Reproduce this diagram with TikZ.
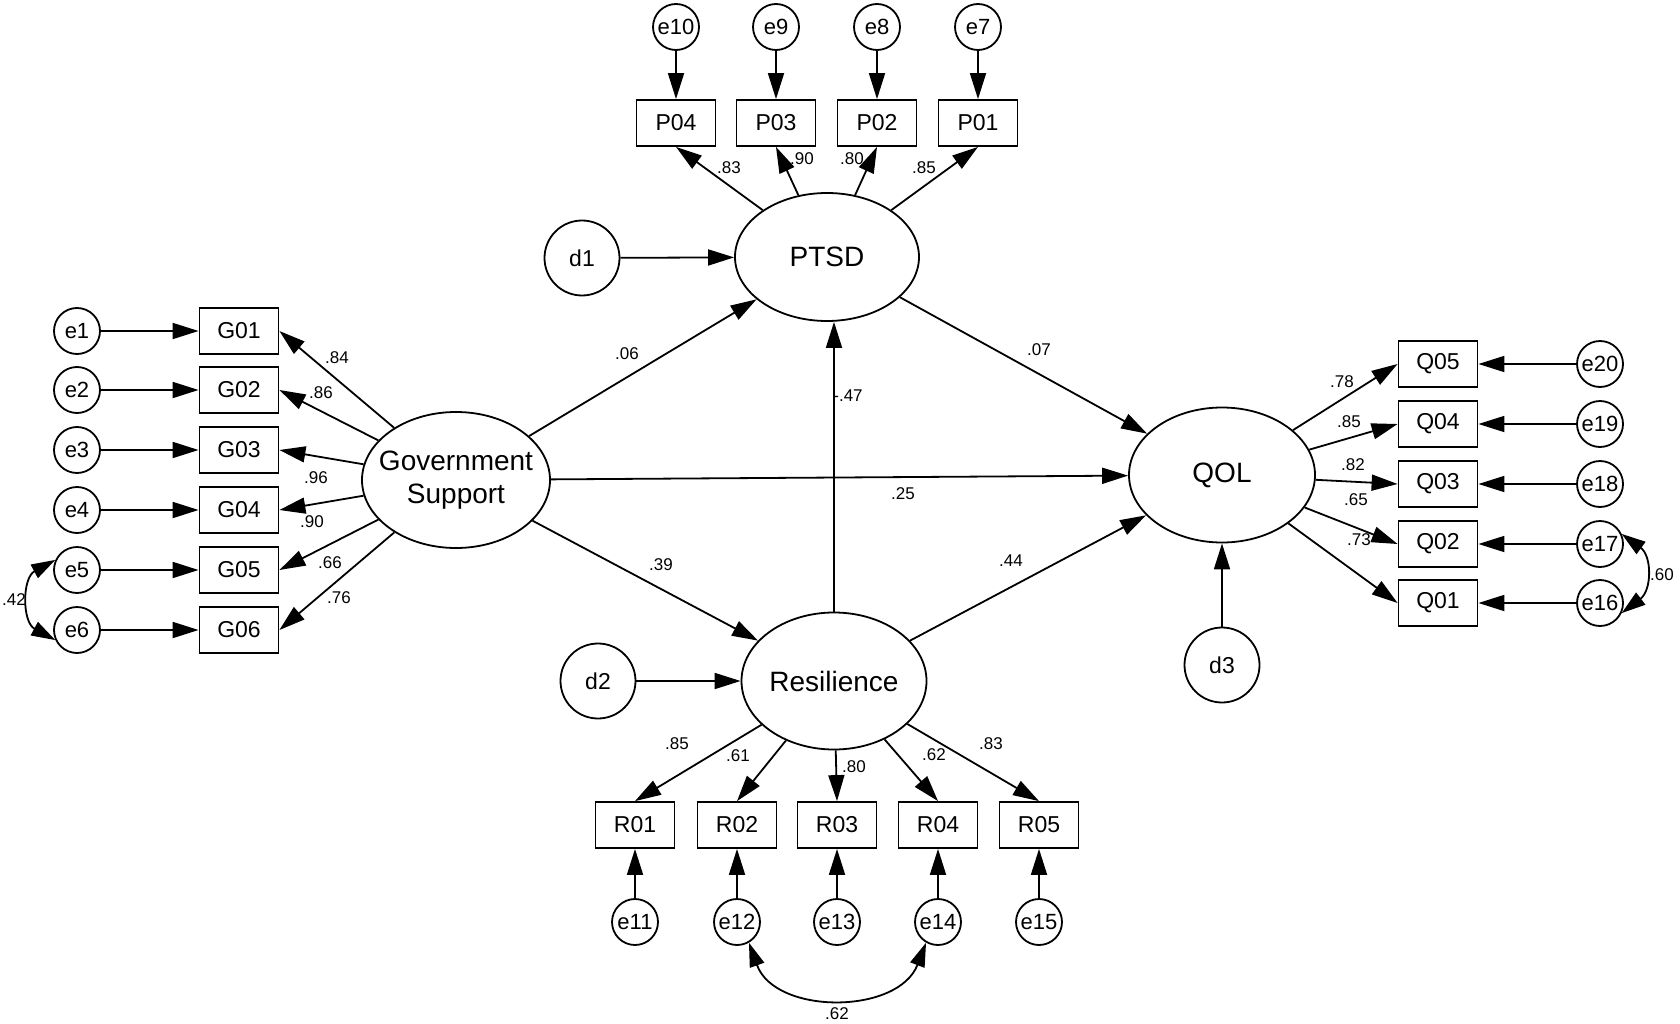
\documentclass[tikz,border=0pt]{standalone}
\usepackage{fontspec}
\setmainfont{Liberation Sans}
\usetikzlibrary{shapes.geometric,arrows.meta}
\begin{document}
\begin{tikzpicture}[x=1pt,y=-1pt,
  line width=1.8pt,
  lat/.style={draw,ellipse,inner sep=0pt,font=\fontsize{28}{33}\selectfont,align=center},
  obs/.style={draw,rectangle,minimum width=79pt,minimum height=46pt,inner sep=0pt,font=\fontsize{23}{26}\selectfont},
  err/.style={draw,circle,minimum size=46pt,inner sep=0pt,font=\fontsize{22}{26}\selectfont},
  dist/.style={draw,circle,minimum size=75pt,inner sep=0pt,font=\fontsize{23}{26}\selectfont},
  arr/.style={-{Triangle[length=26pt,width=16pt]}},
  cov/.style={{Triangle[length=24pt,width=15pt]}-{Triangle[length=24pt,width=15pt]}},
  lab/.style={font=\fontsize{17}{20}\selectfont,inner sep=0pt}]
\useasboundingbox (0,0) rectangle (1680,1024);

% latent variables
\node[lat,minimum width=188pt,minimum height=136pt] (gov) at (456,480) {};
\node[font=\fontsize{28}{33}\selectfont,align=center,inner sep=0pt] (govtext) at (gov.center) {Government\\Support};
\node[lat,minimum width=184pt,minimum height=128pt] (ptsd) at (827,257) {PTSD};
\node[lat,minimum width=186pt,minimum height=135pt] (qol) at (1222,475) {QOL};
\node[lat,minimum width=185pt,minimum height=137pt] (res) at (834,681) {Resilience};

% disturbances
\node[dist] (d1) at (582,258) {d1};
\node[dist] (d2) at (598,681) {d2};
\node[dist] (d3) at (1222,665) {d3};

% Government support indicators
\foreach \i/\y in {1/331,2/390,3/450,4/510,5/570,6/630}{
  \node[obs] (g\i) at (239,\y) {G0\i};
  \node[err] (e\i) at (77,\y) {e\i};
  \draw[arr] (e\i) -- (g\i);
  \draw[arr] (gov) -- (g\i.east);
}

% PTSD indicators
\foreach \i/\e/\x in {1/7/978,2/8/877,3/9/776,4/10/676}{
  \node[obs] (p\i) at (\x,123) {P0\i};
  \node[err] (e\e) at (\x,27) {e\e};
  \draw[arr] (e\e) -- (p\i);
  \draw[arr] (ptsd) -- (p\i.south);
}

% QOL indicators
\foreach \i/\e/\y in {5/20/364,4/19/424,3/18/484,2/17/544,1/16/603}{
  \node[obs] (q\i) at (1438,\y) {Q0\i};
  \node[err] (e\e) at (1600,\y) {e\e};
  \draw[arr] (e\e) -- (q\i);
  \draw[arr] (qol) -- (q\i.west);
}

% Resilience indicators
\foreach \i/\e/\x in {1/11/635,2/12/737,3/13/837,4/14/938,5/15/1039}{
  \node[obs] (r\i) at (\x,825) {R0\i};
  \node[err] (e\e) at (\x,922) {e\e};
  \draw[arr] (e\e) -- (r\i);
  \draw[arr] (res) -- (r\i.north);
}

% structural paths
\draw[arr] (d1) -- (ptsd);
\draw[arr] (d2) -- (res);
\draw[arr] (d3) -- (qol);
\draw[arr] (gov) -- (ptsd);
\draw[arr] (gov) -- (qol);
\draw[arr] (gov) -- (res);
\draw[arr] (ptsd) -- (qol);
\draw[arr] (res) -- (qol);
\draw[arr] (res.north) -- (res.north |- ptsd.south);

% covariances
\draw[cov] (e5.155) .. controls (22,578) and (22,622) .. (e6.205);
\draw[cov] (e17.25) .. controls (1652,556) and (1652,590) .. (e16.-25);
\draw[cov] (e12.-60) .. controls (775,1015) and (898,1015) .. (e14.-120);

% labels
\node[lab] (l1) at (337,358) {.84};
\node[lab] (l2) at (321,393) {.86};
\node[lab] (l3) at (316,478) {.96};
\node[lab] (l4) at (312,522) {.90};
\node[lab] (l5) at (330,563) {.66};
\node[lab] (l6) at (339,598) {.76};
\node[lab] (l7) at (14,600) {.42};
\node[lab] (l8) at (729,168) {.83};
\node[lab] (l9) at (802,159) {.90};
\node[lab] (l10) at (852,159) {.80};
\node[lab] (l11) at (924,168) {.85};
\node[lab] (l12) at (627,354) {.06};
\node[lab] (l13) at (903,494) {.25};
\node[lab] (l14) at (661,565) {.39};
\node[lab] (l15) at (848,396) {-.47};
\node[lab] (l16) at (1039,350) {.07};
\node[lab] (l17) at (1011,561) {.44};
\node[lab] (l18) at (1342,382) {.78};
\node[lab] (l19) at (1349,422) {.85};
\node[lab] (l20) at (1353,465) {.82};
\node[lab] (l21) at (1356,500) {.65};
\node[lab] (l22) at (1359,540) {.73};
\node[lab] (l23) at (1662,575) {.60};
\node[lab] (l24) at (677,744) {.85};
\node[lab] (l25) at (738,756) {.61};
\node[lab] (l26) at (854,767) {.80};
\node[lab] (l27) at (934,755) {.62};
\node[lab] (l28) at (991,744) {.83};
\node[lab] (l29) at (837,1014) {.62};
\end{tikzpicture}
\end{document}
